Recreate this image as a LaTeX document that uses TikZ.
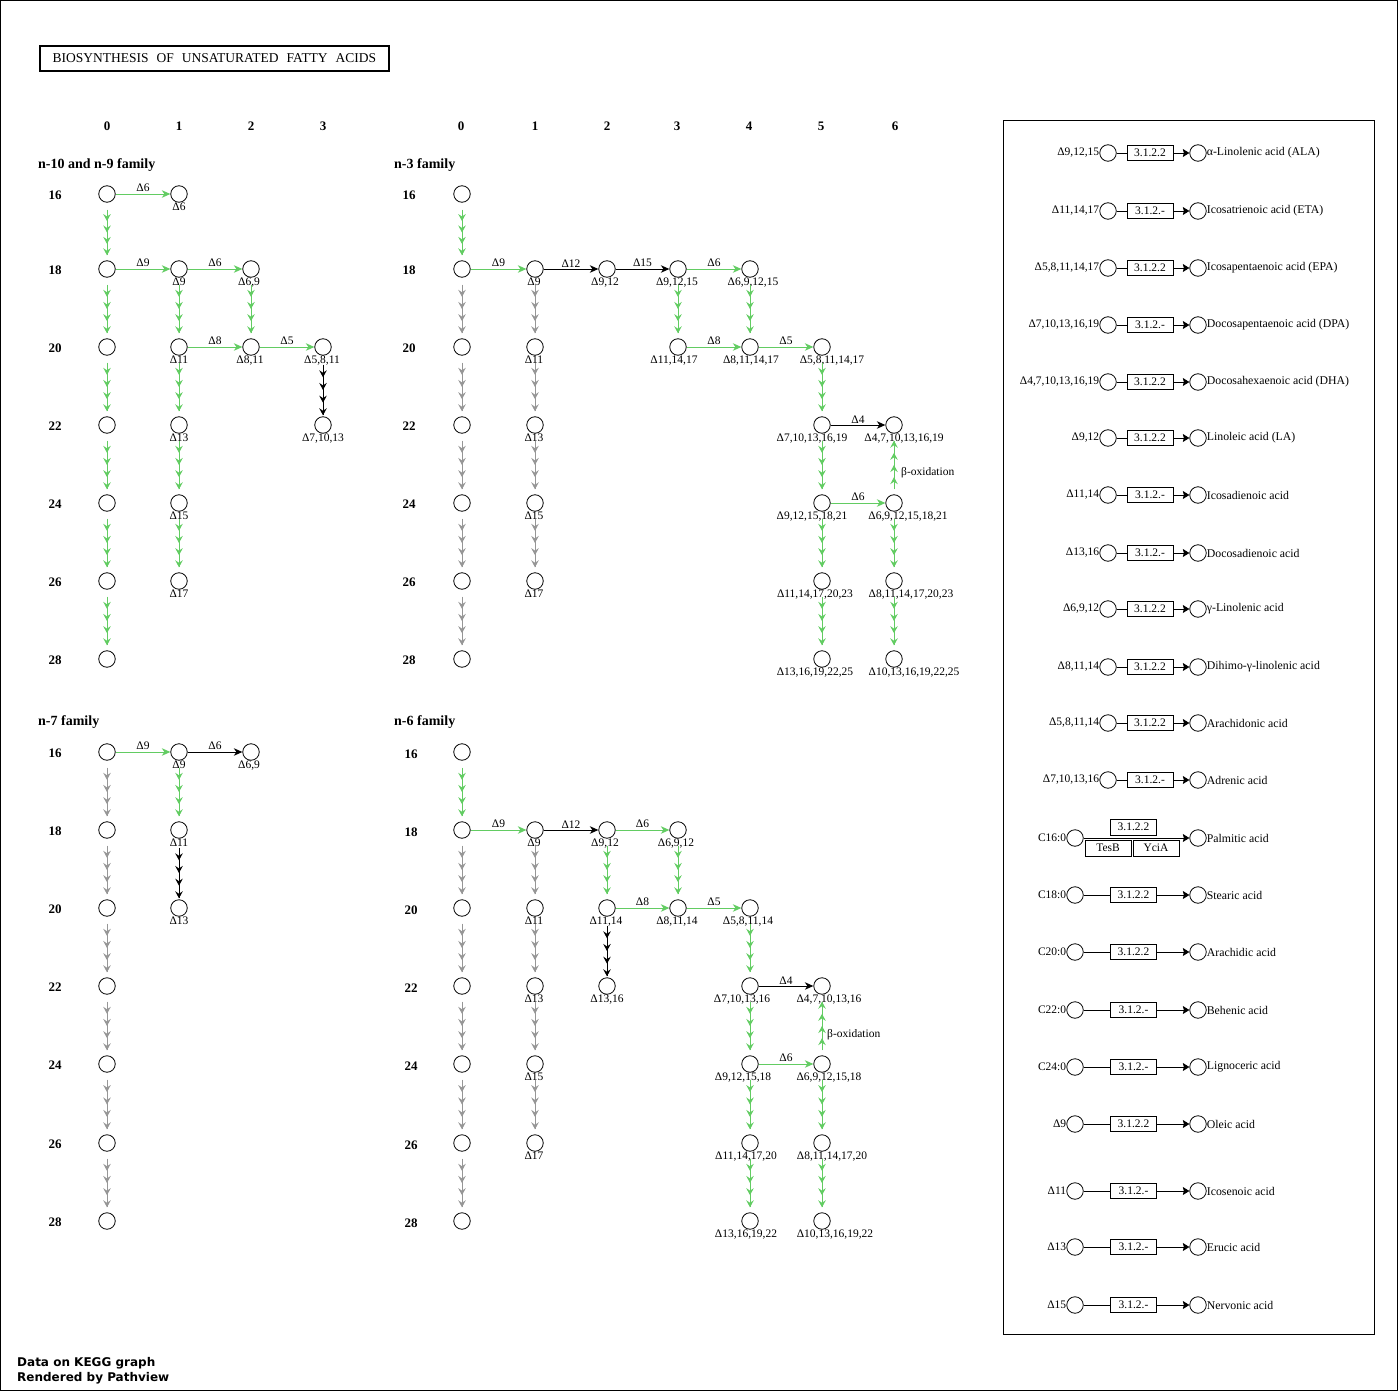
\documentclass[tikz,border=0pt]{standalone}
\usepackage{fontspec}
\setmainfont{Liberation Serif}
\newfontfamily\djvsans{DejaVu Sans}
\usetikzlibrary{arrows.meta, positioning, decorations.markings}

\definecolor{kgreen}{RGB}{98,204,98}
\definecolor{kgray}{RGB}{150,150,150}

\tikzset{
  cpd/.style={circle, draw, line width=0.8pt, minimum size=16.5pt, inner sep=0pt},
  lb/.style={font=\fontsize{11.5}{11.5}\selectfont, inner sep=0pt},
  nm/.style={font=\fontsize{11.8}{12}\selectfont, inner sep=0pt},
  elab/.style={lb, text=black, above=1.5pt},
  hdr/.style={font=\fontsize{13}{13}\selectfont\bfseries, inner sep=0pt},
  fam/.style={font=\fontsize{14}{14}\selectfont\bfseries, inner sep=0pt, anchor=west},
  ec/.style={draw, line width=0.8pt, minimum width=46pt, minimum height=15pt,
    inner sep=0pt, font=\fontsize{11.5}{12}\selectfont},
  rxn/.style={color=#1, line width=0.9pt, -{Stealth[length=8.5pt,width=7.5pt,inset=2.5pt]}},
  rxn/.default=black,
  stp/.style={color=#1, line width=0.9pt, postaction={decorate},
    decoration={markings,
      mark=at position 0.25 with {\arrow{Stealth[length=7pt,width=7.5pt,inset=2.5pt]}},
      mark=at position 0.5 with {\arrow{Stealth[length=7pt,width=7.5pt,inset=2.5pt]}},
      mark=at position 0.75 with {\arrow{Stealth[length=7pt,width=7.5pt,inset=2.5pt]}},
      mark=at position 0.999 with {\arrow{Stealth[length=7pt,width=7.5pt,inset=2.5pt]}}}},
  term/.style={line width=0.8pt, -{Stealth[length=6.5pt,width=8pt,inset=1pt]}},
}

\begin{document}
\begin{tikzpicture}[x=1pt, y=-1pt]
  \useasboundingbox (0,0) rectangle (1398,1391);
  \draw[line width=1pt] (0.5,0.5) rectangle (1397.5,1390.5);

  % title
  \node[draw, line width=1.5pt, minimum width=349pt, minimum height=25pt, inner sep=0pt,
    font=\fontsize{13.5}{13.5}\selectfont] (title) at (214.5,58.5)
    {BIOSYNTHESIS\hspace{8pt}OF\hspace{8pt}UNSATURATED\hspace{8pt}FATTY\hspace{8pt}ACIDS};

  % n-10 and n-9 family
  \node[fam] at (38,165) {n-10 and n-9 family};
  \foreach \cl/\x in {0/107,1/179,2/251,3/323} \node[hdr] at (\x,126) {\cl};
  \foreach \rw/\y in {16/194,18/269,20/347,22/425,24/503,26/581,28/659} {
    \node[hdr] at (55,\y+1.5) {\rw};
    \node[cpd] (a0-\rw) at (107,\y) {};
  }
  \foreach \rw/\y/\dl in {16/194/6,18/269/9,20/347/11,22/425/13,24/503/15,26/581/17}
    \node[cpd, label={[lb]below:Δ\dl}] (a1-\rw) at (179,\y) {};
  \node[cpd, label={[lb,xshift=-2pt]below:{Δ6,9}}] (a2-18) at (251,269) {};
  \node[cpd, label={[lb,xshift=-1pt]below:{Δ8,11}}] (a2-20) at (251,347) {};
  \node[cpd, label={[lb,xshift=-1pt]below:{Δ5,8,11}}] (a3-20) at (323,347) {};
  \node[cpd, label={[lb]below:{Δ7,10,13}}] (a3-22) at (323,425) {};

  \foreach \pa/\pb in {a0-16/a0-18,a0-18/a0-20,a0-20/a0-22,a0-22/a0-24,a0-24/a0-26,a0-26/a0-28,
      a1-18/a1-20,a1-20/a1-22,a1-22/a1-24,a1-24/a1-26,a2-18/a2-20}
    \draw[stp=kgreen] ([yshift=-7pt]\pa.south) -- ([yshift=5pt]\pb.north);
  \draw[stp=black] ([yshift=-9pt]a3-20.south) -- ([yshift=1pt]a3-22.north);
  \draw[rxn=kgreen] (a0-16) -- node[elab] {Δ6} (a1-16);
  \draw[rxn=kgreen] (a0-18) -- node[elab] {Δ9} (a1-18);
  \draw[rxn=kgreen] (a1-18) -- node[elab] {Δ6} (a2-18);
  \draw[rxn=kgreen] (a1-20) -- node[elab] {Δ8} (a2-20);
  \draw[rxn=kgreen] (a2-20) -- node[elab] {Δ5} (a3-20);

  % n-3 family
  \node[fam] at (394,165) {n-3 family};
  \foreach \cl/\x in {0/461,1/535,2/607,3/677,4/749,5/821,6/895} \node[hdr] at (\x,126) {\cl};
  \foreach \rw/\y in {16/194,18/269,20/347,22/425,24/503,26/581,28/659} {
    \node[hdr] at (409,\y+1.5) {\rw};
    \node[cpd] (b0-\rw) at (462,\y) {};
  }
  \foreach \rw/\y/\dl in {18/269/9,20/347/11,22/425/13,24/503/15,26/581/17}
    \node[cpd, label={[lb,xshift=-1pt]below:Δ\dl}] (b1-\rw) at (535,\y) {};
  \node[cpd, label={[lb,xshift=-2pt]below:{Δ9,12}}] (b2-18) at (607,269) {};
  \node[cpd, label={[lb,xshift=-1pt]below:{Δ9,12,15}}] (b3-18) at (678,269) {};
  \node[cpd, label={[lb,xshift=3pt]below:{Δ6,9,12,15}}] (b4-18) at (750,269) {};
  \node[cpd, label={[lb,xshift=-4pt]below:{Δ11,14,17}}] (b3-20) at (678,347) {};
  \node[cpd, label={[lb,xshift=1pt]below:{Δ8,11,14,17}}] (b4-20) at (750,347) {};
  \node[cpd, label={[lb,xshift=10pt]below:{Δ5,8,11,14,17}}] (b5-20) at (822,347) {};
  \node[cpd, label={[lb,xshift=-10pt]below:{Δ7,10,13,16,19}}] (b5-22) at (822,425) {};
  \node[cpd, label={[lb,xshift=-10pt]below:{Δ9,12,15,18,21}}] (b5-24) at (822,503) {};
  \node[cpd, label={[lb,xshift=-7pt]below:{Δ11,14,17,20,23}}] (b5-26) at (822,581) {};
  \node[cpd, label={[lb,xshift=-7pt]below:{Δ13,16,19,22,25}}] (b5-28) at (822,659) {};
  \node[cpd, label={[lb,xshift=10pt]below:{Δ4,7,10,13,16,19}}] (b6-22) at (894,425) {};
  \node[cpd, label={[lb,xshift=14pt]below:{Δ6,9,12,15,18,21}}] (b6-24) at (894,503) {};
  \node[cpd, label={[lb,xshift=17pt]below:{Δ8,11,14,17,20,23}}] (b6-26) at (894,581) {};
  \node[cpd, label={[lb,xshift=20pt]below:{Δ10,13,16,19,22,25}}] (b6-28) at (894,659) {};

  \foreach \pa/\pb in {b0-16/b0-18,b3-18/b3-20,b4-18/b4-20,b5-20/b5-22,b5-22/b5-24,
      b5-24/b5-26,b5-26/b5-28,b6-24/b6-26,b6-26/b6-28}
    \draw[stp=kgreen] ([yshift=-7pt]\pa.south) -- ([yshift=5pt]\pb.north);
  \foreach \pa/\pb in {b0-18/b0-20,b0-20/b0-22,b0-22/b0-24,b0-24/b0-26,b0-26/b0-28,
      b1-18/b1-20,b1-20/b1-22,b1-22/b1-24,b1-24/b1-26}
    \draw[stp=kgray] ([yshift=-7pt]\pa.south) -- ([yshift=5pt]\pb.north);
  \draw[stp=kgreen] ([yshift=5pt]b6-24.north) -- ([yshift=-7pt]b6-22.south);
  \node[lb, anchor=west] at (901,473) {β-oxidation};
  \draw[rxn=kgreen] (b0-18) -- node[elab] {Δ9} (b1-18);
  \draw[rxn] (b1-18) -- node[elab] {Δ12} (b2-18);
  \draw[rxn] (b2-18) -- node[elab] {Δ15} (b3-18);
  \draw[rxn=kgreen] (b3-18) -- node[elab] {Δ6} (b4-18);
  \draw[rxn=kgreen] (b3-20) -- node[elab] {Δ8} (b4-20);
  \draw[rxn=kgreen] (b4-20) -- node[elab] {Δ5} (b5-20);
  \draw[rxn] (b5-22) -- node[elab] {Δ4} (b6-22);
  \draw[rxn=kgreen] (b5-24) -- node[elab] {Δ6} (b6-24);

  % n-7 family
  \node[fam] at (38,722) {n-7 family};
  \foreach \rw/\y in {16/752,18/830,20/908,22/986,24/1064,26/1143,28/1221} {
    \node[hdr] at (55,\y+1.5) {\rw};
    \node[cpd] (c0-\rw) at (107,\y) {};
  }
  \foreach \rw/\y/\dl in {16/752/9,18/830/11,20/908/13}
    \node[cpd, label={[lb]below:Δ\dl}] (c1-\rw) at (179,\y) {};
  \node[cpd, label={[lb,xshift=-2pt]below:{Δ6,9}}] (c2-16) at (251,752) {};

  \foreach \pa/\pb in {c0-16/c0-18,c0-18/c0-20,c0-20/c0-22,c0-22/c0-24,c0-24/c0-26,c0-26/c0-28}
    \draw[stp=kgray] ([yshift=-7pt]\pa.south) -- ([yshift=5pt]\pb.north);
  \draw[stp=kgreen] ([yshift=-7pt]c1-16.south) -- ([yshift=5pt]c1-18.north);
  \draw[stp=black] ([yshift=-9pt]c1-18.south) -- ([yshift=1pt]c1-20.north);
  \draw[rxn=kgreen] (c0-16) -- node[elab] {Δ9} (c1-16);
  \draw[rxn] (c1-16) -- node[elab] {Δ6} (c2-16);

  % n-6 family
  \node[fam] at (394,722) {n-6 family};
  \foreach \rw/\y in {16/752,18/830,20/908,22/986,24/1064,26/1143,28/1221} {
    \node[hdr] at (411,\y+2) {\rw};
    \node[cpd] (d0-\rw) at (462,\y) {};
  }
  \foreach \rw/\y/\dl in {18/830/9,20/908/11,22/986/13,24/1064/15,26/1143/17}
    \node[cpd, label={[lb,xshift=-1pt]below:Δ\dl}] (d1-\rw) at (535,\y) {};
  \node[cpd, label={[lb,xshift=-2pt]below:{Δ9,12}}] (d2-18) at (607,830) {};
  \node[cpd, label={[lb,xshift=-1pt]below:{Δ11,14}}] (d2-20) at (607,908) {};
  \node[cpd, label={[lb]below:{Δ13,16}}] (d2-22) at (607,986) {};
  \node[cpd, label={[lb,xshift=-2pt]below:{Δ6,9,12}}] (d3-18) at (678,830) {};
  \node[cpd, label={[lb,xshift=-1pt]below:{Δ8,11,14}}] (d3-20) at (678,908) {};
  \node[cpd, label={[lb,xshift=-2pt]below:{Δ5,8,11,14}}] (d4-20) at (750,908) {};
  \node[cpd, label={[lb,xshift=-8pt]below:{Δ7,10,13,16}}] (d4-22) at (750,986) {};
  \node[cpd, label={[lb,xshift=-7pt]below:{Δ9,12,15,18}}] (d4-24) at (750,1064) {};
  \node[cpd, label={[lb,xshift=-4pt]below:{Δ11,14,17,20}}] (d4-26) at (750,1143) {};
  \node[cpd, label={[lb,xshift=-4pt]below:{Δ13,16,19,22}}] (d4-28) at (750,1221) {};
  \node[cpd, label={[lb,xshift=7pt]below:{Δ4,7,10,13,16}}] (d5-22) at (822,986) {};
  \node[cpd, label={[lb,xshift=7pt]below:{Δ6,9,12,15,18}}] (d5-24) at (822,1064) {};
  \node[cpd, label={[lb,xshift=10pt]below:{Δ8,11,14,17,20}}] (d5-26) at (822,1143) {};
  \node[cpd, label={[lb,xshift=13pt]below:{Δ10,13,16,19,22}}] (d5-28) at (822,1221) {};

  \foreach \pa/\pb in {d0-16/d0-18,d2-18/d2-20,d3-18/d3-20,d4-20/d4-22,d4-22/d4-24,
      d4-24/d4-26,d4-26/d4-28,d5-24/d5-26,d5-26/d5-28}
    \draw[stp=kgreen] ([yshift=-7pt]\pa.south) -- ([yshift=5pt]\pb.north);
  \foreach \pa/\pb in {d0-18/d0-20,d0-20/d0-22,d0-22/d0-24,d0-24/d0-26,d0-26/d0-28,
      d1-18/d1-20,d1-20/d1-22,d1-22/d1-24,d1-24/d1-26}
    \draw[stp=kgray] ([yshift=-7pt]\pa.south) -- ([yshift=5pt]\pb.north);
  \draw[stp=black] ([yshift=-9pt]d2-20.south) -- ([yshift=1pt]d2-22.north);
  \draw[stp=kgreen] ([yshift=5pt]d5-24.north) -- ([yshift=-7pt]d5-22.south);
  \node[lb, anchor=west] at (827,1035) {β-oxidation};
  \draw[rxn=kgreen] (d0-18) -- node[elab] {Δ9} (d1-18);
  \draw[rxn] (d1-18) -- node[elab] {Δ12} (d2-18);
  \draw[rxn=kgreen] (d2-18) -- node[elab] {Δ6} (d3-18);
  \draw[rxn=kgreen] (d2-20) -- node[elab] {Δ8} (d3-20);
  \draw[rxn=kgreen] (d3-20) -- node[elab] {Δ5} (d4-20);
  \draw[rxn] (d4-22) -- node[elab] {Δ4} (d5-22);
  \draw[rxn=kgreen] (d4-24) -- node[elab] {Δ6} (d5-24);

  % thioesterase panel
  \draw[line width=0.8pt] (1003,120) rectangle (1374,1334);
  \foreach \y/\sname/\ecn/\pname [count=\i] in {
      153/{Δ9,12,15}/3.1.2.2/{α-Linolenic acid (ALA)},
      211/{Δ11,14,17}/3.1.2.-/{Icosatrienoic acid (ETA)},
      268/{Δ5,8,11,14,17}/3.1.2.2/{Icosapentaenoic acid (EPA)},
      325/{Δ7,10,13,16,19}/3.1.2.-/{Docosapentaenoic acid (DPA)},
      382/{Δ4,7,10,13,16,19}/3.1.2.2/{Docosahexaenoic acid (DHA)},
      438/{Δ9,12}/3.1.2.2/{Linoleic acid (LA)},
      495/{Δ11,14}/3.1.2.-/{Icosadienoic acid},
      553/{Δ13,16}/3.1.2.-/{Docosadienoic acid},
      609/{Δ6,9,12}/3.1.2.2/{γ-Linolenic acid},
      667/{Δ8,11,14}/3.1.2.2/{Dihimo-γ-linolenic acid},
      723/{Δ5,8,11,14}/3.1.2.2/{Arachidonic acid},
      780/{Δ7,10,13,16}/3.1.2.-/{Adrenic acid}} {
    \node[cpd] (s\i) at (1108,\y) {};
    \node[ec] (e\i) at (1150,\y) {\ecn};
    \node[cpd] (p\i) at (1198,\y) {};
    \node[lb, left=0pt of s\i] {\sname};
    \node[nm, right=0pt of p\i] {\pname};
    \draw[line width=0.8pt] (s\i) -- (e\i);
    \draw[term] (e\i) -- (p\i);
  }
  \node[cpd] (s13) at (1075,838) {};
  \node[cpd] (p13) at (1198,838) {};
  \node[lb, left=0pt of s13] {C16:0};
  \node[nm, right=0pt of p13] {Palmitic acid};
  \draw[term] (s13) -- (p13);
  \node[ec, minimum height=16pt] (e13) at (1133.5,827) {3.1.2.2};
  \node[ec, minimum height=16pt] (e13b) at (1108,848) {TesB};
  \node[ec, minimum height=16pt] (e13c) at (1156,848) {YciA};
  \foreach \y/\sname/\ecn/\pname [count=\i from 14] in {
      895/{C18:0}/3.1.2.2/{Stearic acid},
      952/{C20:0}/3.1.2.2/{Arachidic acid},
      1010/{C22:0}/3.1.2.-/{Behenic acid},
      1067/{C24:0}/3.1.2.-/{Lignoceric acid},
      1124/{Δ9}/3.1.2.2/{Oleic acid},
      1191/{Δ11}/3.1.2.-/{Icosenoic acid},
      1247/{Δ13}/3.1.2.-/{Erucic acid},
      1305/{Δ15}/3.1.2.-/{Nervonic acid}} {
    \node[cpd] (s\i) at (1075,\y) {};
    \node[ec] (e\i) at (1133.5,\y) {\ecn};
    \node[cpd] (p\i) at (1198,\y) {};
    \node[lb, left=0pt of s\i] {\sname};
    \node[nm, right=0pt of p\i] {\pname};
    \draw[line width=0.8pt] (s\i) -- (e\i);
    \draw[term] (e\i) -- (p\i);
  }

  % footer
  \node[anchor=west, inner sep=0pt, font=\djvsans\bfseries\fontsize{12}{12}\selectfont]
    (data) at (17,1363) {Data on KEGG graph};
  \node[anchor=west, inner sep=0pt, font=\djvsans\bfseries\fontsize{12}{12}\selectfont]
    (rend) at (17,1378) {Rendered by Pathview};
\end{tikzpicture}
\end{document}
